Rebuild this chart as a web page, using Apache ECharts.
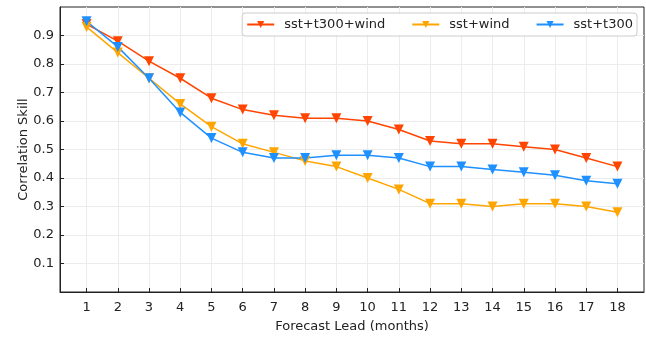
<!DOCTYPE html>
<html>
<head>
<meta charset="utf-8">
<script src="https://cdn.jsdelivr.net/npm/echarts@6/dist/echarts.min.js"></script>
<style>
  html, body { margin: 0; padding: 0; background: #fff; }
  #chart { width: 646px; height: 338px; }
</style>
</head>
<body>
<div id="chart"></div>
<script>
const leads = [1, 2, 3, 4, 5, 6, 7, 8, 9, 10, 11, 12, 13, 14, 15, 16, 17, 18];
const sstT300Wind = [0.94, 0.88, 0.81, 0.75, 0.68, 0.64, 0.62, 0.61, 0.61, 0.60, 0.57, 0.53, 0.52, 0.52, 0.51, 0.50, 0.47, 0.44];
const sstWind = [0.93, 0.84, 0.75, 0.66, 0.58, 0.52, 0.49, 0.46, 0.44, 0.40, 0.36, 0.31, 0.31, 0.30, 0.31, 0.31, 0.30, 0.28];
const sstT300 = [0.95, 0.86, 0.75, 0.63, 0.54, 0.49, 0.47, 0.47, 0.48, 0.48, 0.47, 0.44, 0.44, 0.43, 0.42, 0.41, 0.39, 0.38];
const yTicks = [0.1, 0.2, 0.3, 0.4, 0.5, 0.6, 0.7, 0.8, 0.9];

const FONT = 'DejaVu Sans';

const makeSeries = (name, values, color) => ({
  name: name,
  type: 'line',
  data: leads.map((x, i) => [x, values[i]]),
  symbol: 'triangle',
  symbolRotate: 180,
  symbolSize: 10,
  lineStyle: { color: color, width: 1.5 },
  itemStyle: { color: color },
  color: color,
  animation: false,
});

const chart = echarts.init(document.getElementById('chart'));
chart.setOption({
  backgroundColor: '#fff',
  textStyle: { fontFamily: FONT },
  grid: {
    left: 60, right: 2, top: 7, bottom: 40,
    show: true, borderColor: '#222', borderWidth: 1,
  },
  legend: {
    right: 9, top: 13,
    itemWidth: 27, itemHeight: 9, itemGap: 26,
    padding: [5, 4],
    borderColor: '#ccc', borderWidth: 1, borderRadius: 3,
    backgroundColor: '#fff',
    textStyle: { fontFamily: FONT, fontSize: 13, color: '#222', padding: [0, 0, 0, 5] },
    data: ['sst+t300+wind', 'sst+wind', 'sst+t300'],
  },
  xAxis: {
    type: 'value',
    min: 0.15, max: 18.85,
    name: 'Forecast Lead (months)',
    nameLocation: 'middle',
    nameGap: 28,
    nameMoveOverlap: false,
    nameTextStyle: { fontFamily: FONT, fontSize: 13, color: '#222' },
    axisLine: { show: true, lineStyle: { color: '#222', width: 1 } },
    axisTick: { show: true, inside: true, length: 4, customValues: leads, lineStyle: { color: '#222' } },
    axisLabel: { customValues: leads, fontFamily: FONT, fontSize: 13, color: '#222', margin: 9 },
    splitLine: { show: true, lineStyle: { color: '#ececec', width: 1 } },
  },
  yAxis: {
    type: 'value',
    min: 0, max: 1,
    name: 'Correlation Skill',
    nameLocation: 'middle',
    nameGap: 30,
    nameMoveOverlap: false,
    nameTextStyle: { fontFamily: FONT, fontSize: 13, color: '#222' },
    axisLine: { show: true, lineStyle: { color: '#222', width: 1 } },
    axisTick: { show: true, inside: true, length: 4, customValues: yTicks, lineStyle: { color: '#222' } },
    axisLabel: { customValues: yTicks, fontFamily: FONT, fontSize: 13, color: '#222', margin: 6, formatter: (v) => v.toFixed(1) },
    splitLine: { show: true, lineStyle: { color: '#ececec', width: 1 } },
  },
  series: [
    makeSeries('sst+t300+wind', sstT300Wind, '#ff4500'),
    makeSeries('sst+wind', sstWind, '#ffa500'),
    makeSeries('sst+t300', sstT300, '#1e90ff'),
  ],
});
</script>
</body>
</html>
